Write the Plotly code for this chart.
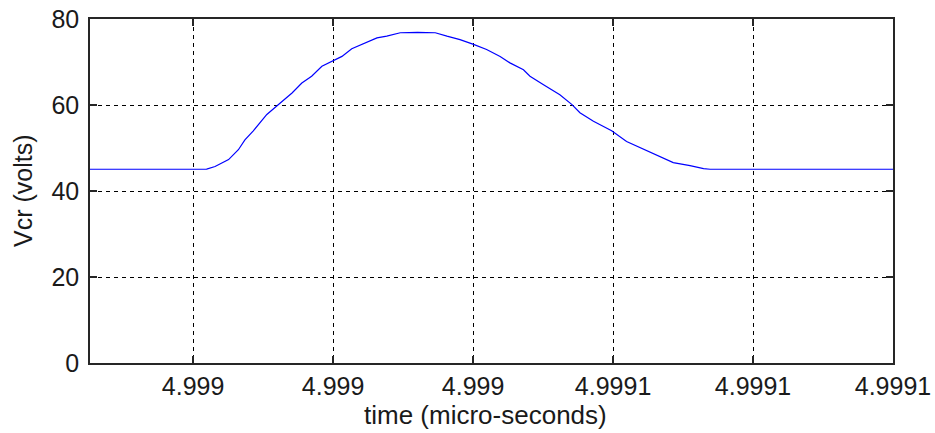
import plotly.graph_objects as go

time_us = [4.9989479, 4.9989729, 4.9989747, 4.9989776, 4.9989797, 4.9989811, 4.9989829,
           4.9989858, 4.9989883, 4.9989912, 4.9989933, 4.9989954, 4.9989976, 4.9989999,
           4.9990019, 4.9990040, 4.9990069, 4.9990094, 4.9990115, 4.9990144, 4.9990181,
           4.9990219, 4.9990244, 4.9990272, 4.9990301, 4.9990329, 4.9990358, 4.9990379,
           4.9990408, 4.9990422, 4.9990451, 4.9990486, 4.9990512, 4.9990529, 4.9990558,
           4.9990597, 4.9990629, 4.9990665, 4.9990694, 4.9990729, 4.9990765, 4.9990794,
           4.9990808, 4.9991200]
vcr = [45.06, 45.1, 45.7, 47.3, 49.6, 51.9, 54.0,
       57.8, 60.1, 62.8, 65.1, 66.7, 69.0, 70.3,
       71.3, 73.1, 74.4, 75.6, 76.0, 76.8, 76.9,
       76.8, 76.0, 75.2, 74.1, 72.9, 71.3, 69.8,
       68.2, 66.7, 64.7, 62.4, 60.1, 58.2, 56.2,
       54.0, 51.5, 49.8, 48.4, 46.6, 45.9, 45.2,
       45.06, 45.06]

x_tick_vals = [4.99897, 4.99900, 4.99903, 4.99906, 4.99909, 4.99912]
x_tick_text = ["4.999", "4.999", "4.999", "4.9991", "4.9991", "4.9991"]
y_tick_vals = [0, 20, 40, 60, 80]
x_title = "time (micro-seconds)"
y_title = "Vcr (volts)"

FONT = "Liberation Sans, Arial, sans-serif"
TXT = "#1a1a1a"

fig = go.Figure()
fig.add_trace(go.Scatter(x=time_us, y=vcr, mode="lines",
                         line=dict(color="#0000FF", width=1.2),
                         showlegend=False, hoverinfo="skip"))

axis_common = dict(
    showline=True, linecolor="#262626", linewidth=1.5, mirror="ticks",
    ticks="inside", ticklen=7, tickcolor="#262626", tickwidth=1.5,
    showgrid=True, gridcolor="#000000", gridwidth=1, griddash="4px,4px",
    zeroline=False, automargin=False, ticklabeloverflow="allow",
    tickfont=dict(family=FONT, size=25, color=TXT),
)

fig.update_layout(
    width=935, height=433,
    margin=dict(l=90, r=42, t=19, b=70),
    paper_bgcolor="white", plot_bgcolor="white",
    xaxis=dict(range=[4.9989479, 4.99912], tickvals=x_tick_vals, ticktext=x_tick_text,
               ticklabelstandoff=0, **axis_common),
    yaxis=dict(range=[0, 80], tickvals=y_tick_vals, ticklabelstandoff=4,
               **axis_common),
    annotations=[
        dict(text=x_title, xref="paper", yref="paper", x=0.493, y=0,
             xanchor="center", yanchor="middle", yshift=-52, showarrow=False,
             font=dict(family=FONT, size=26, color=TXT)),
        dict(text=y_title, xref="paper", yref="paper", x=0, y=0.5,
             xanchor="center", yanchor="middle", xshift=-67, textangle=-90,
             showarrow=False, font=dict(family=FONT, size=25, color=TXT)),
    ],
)

fig.write_html("out.html", config={"displayModeBar": False},
               post_script="document.body.style.margin='0';")
